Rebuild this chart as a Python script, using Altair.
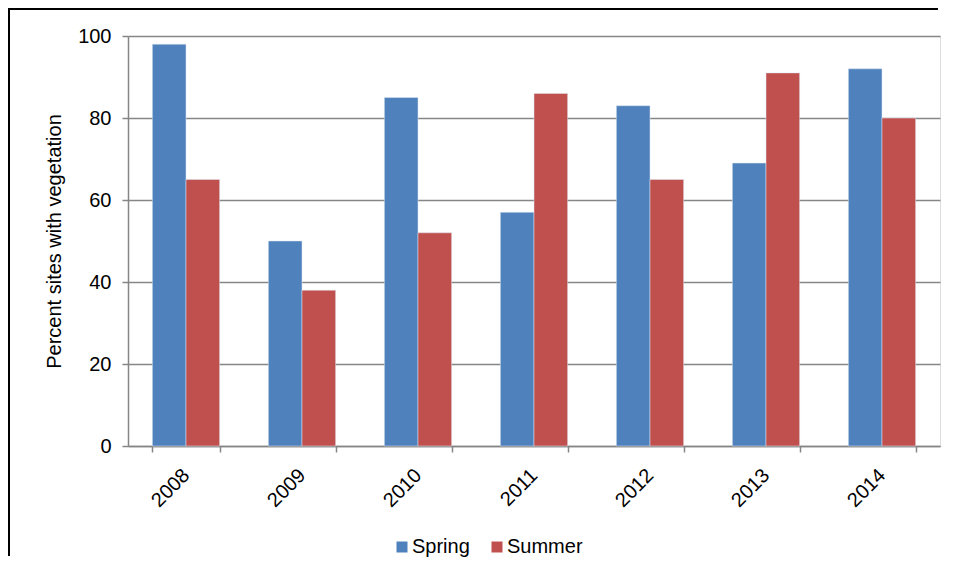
import altair as alt
import pandas as pd

years = ["2008", "2009", "2010", "2011", "2012", "2013", "2014"]
spring = [98, 50, 85, 57, 83, 69, 92]
summer = [65, 38, 52, 86, 65, 91, 80]
seasons = ["Spring", "Summer"]
colors = ["#4F81BD", "#C0504D"]

rows = []
for y, sp, su in zip(years, spring, summer):
    rows.append({"Year": y, "Season": "Spring", "Value": sp})
    rows.append({"Year": y, "Season": "Summer", "Value": su})
df = pd.DataFrame(rows)

FONT = "Liberation Sans"
GRAY = "#868686"

bars = alt.Chart(df).mark_bar(stroke="#dde6f0", strokeWidth=0.5).encode(
    x=alt.X(
        "Year:N",
        sort=years,
        scale=alt.Scale(paddingInner=0.42, paddingOuter=0.21),
        axis=alt.Axis(
            title=None,
            labelAngle=-45,
            labelAlign="right",
            labelBaseline="middle",
            labelPadding=20,
            labelFontSize=20,
            labelFont=FONT,
            labelColor="black",
            tickBand="extent",
            tickSize=6,
            tickColor=GRAY,
            tickWidth=1.5,
            domainColor=GRAY,
            domainWidth=1.5,
            grid=False,
            labelOffset=0,
        ),
    ),
    xOffset=alt.XOffset("Season:N", sort=seasons),
    y=alt.Y(
        "Value:Q",
        scale=alt.Scale(domain=[0, 100], nice=False),
        axis=alt.Axis(
            title="Percent sites with vegetation",
            titleFont=FONT,
            titleFontSize=20,
            titleFontWeight="normal",
            titleColor="black",
            titlePadding=13,
            values=[0, 20, 40, 60, 80, 100],
            labelFontSize=20,
            labelFont=FONT,
            labelColor="black",
            labelPadding=11,
            tickSize=6,
            tickColor=GRAY,
            tickWidth=1.5,
            domainColor=GRAY,
            domainWidth=1.5,
            grid=True,
            gridColor=GRAY,
            gridWidth=1.5,
        ),
    ),
    color=alt.Color(
        "Season:N",
        sort=seasons,
        scale=alt.Scale(domain=seasons, range=colors),
        legend=alt.Legend(
            title=None,
            orient="none",
            direction="horizontal",
            legendX=264,
            legendY=501,
            symbolType="square",
            symbolSize=121,
            symbolStrokeWidth=0,
            labelFontSize=20,
            labelFont=FONT,
            labelColor="black",
            labelOffset=0,
            columnPadding=17,
        ),
    ),
)

# chart frame: top and left edges (right/bottom lie beyond the window)
frame = pd.DataFrame({"a": [0]})
left_edge = alt.Chart(frame).mark_rule(color="black", strokeWidth=2).encode(
    x=alt.value(-119), y=alt.value(-28), y2=alt.value(520)
)
top_edge = alt.Chart(frame).mark_rule(color="black", strokeWidth=2).encode(
    x=alt.value(-120), x2=alt.value(810), y=alt.value(-27)
)

chart = alt.layer(bars, left_edge, top_edge).properties(
    width=812,
    height=410,
    autosize=alt.AutoSizeParams(type="none"),
    padding={"left": 120, "top": 28, "right": 10, "bottom": 126},
).configure_view(stroke=None).configure(background="white")

chart.save("out.html", embed_options={"renderer": "svg", "actions": False})
